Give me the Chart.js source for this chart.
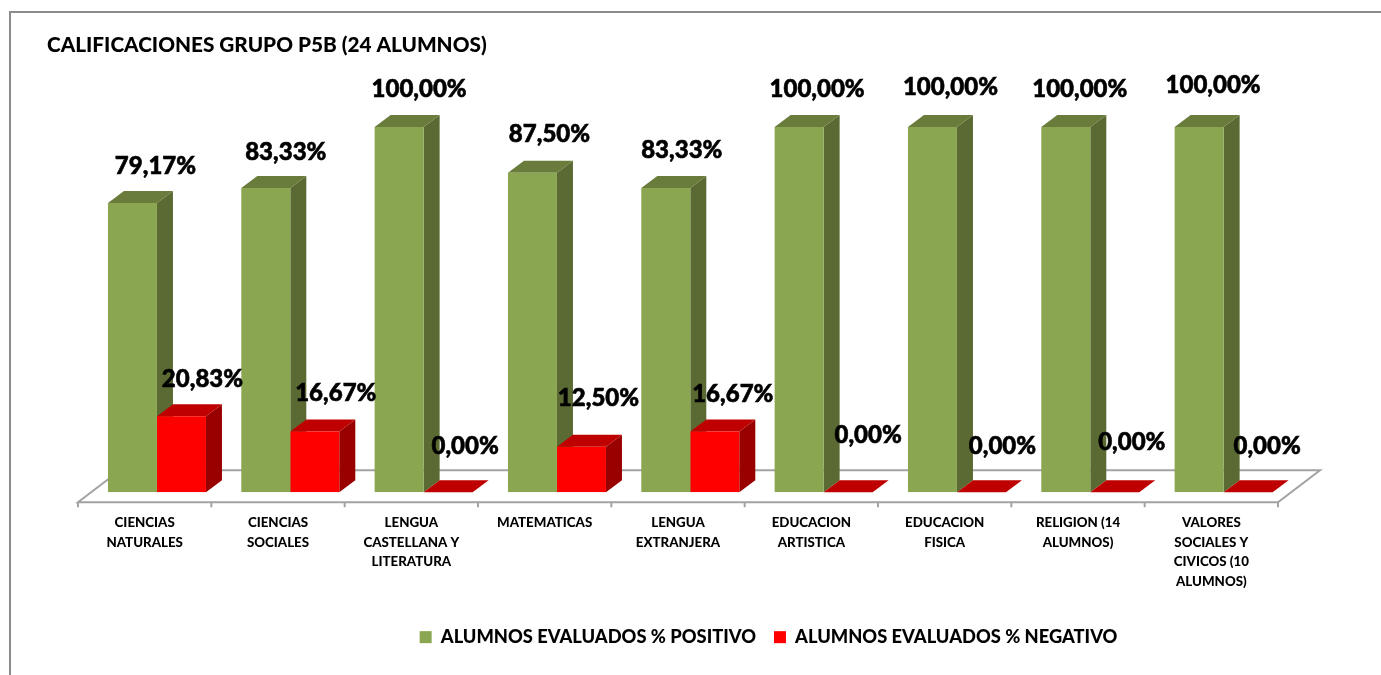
<!DOCTYPE html>
<html>
<head>
<meta charset="utf-8">
<title>Calificaciones grupo P5B</title>
<script src="https://cdn.jsdelivr.net/npm/chart.js@4"></script>
<style>
	html, body { margin: 0; padding: 0; background: #fff; overflow: hidden; }
	canvas { display: block; }
</style>
</head>
<body>
<canvas id="chart" width="1381" height="675"></canvas>
<script>
const categories = [
	['CIENCIAS', 'NATURALES'],
	['CIENCIAS', 'SOCIALES'],
	['LENGUA', 'CASTELLANA Y', 'LITERATURA'],
	'MATEMATICAS',
	['LENGUA', 'EXTRANJERA'],
	['EDUCACION', 'ARTISTICA'],
	['EDUCACION', 'FISICA'],
	['RELIGION (14', 'ALUMNOS)'],
	['VALORES', 'SOCIALES Y', 'CIVICOS (10', 'ALUMNOS)'],
];
const positivo = [79.17, 83.33, 100, 87.5, 83.33, 100, 100, 100, 100];
const negativo = [20.83, 16.67, 0, 12.5, 16.67, 0, 0, 0, 0];

// hand placed value labels in the original, [dx from bar centre, dy above bar top]
const positivoNudge = [[23, 37], [20, 36], [20, 38], [17, 38], [16, 38], [18, 38], [18, 40], [14, 38], [14, 42]];
const negativoNudge = [[21, 37], [21, 38], [17, 46], [17, 48], [18, 37], [20, 57], [21, 46], [17, 50], [19, 46]];

const FONT = 'Lato, Carlito, sans-serif';
const DEPTH_X = 16;
const DEPTH_Y = 12;
const LABEL_SHIFT = 12.3;

function poly(ctx, points, color) {
	ctx.fillStyle = color;
	ctx.beginPath();
	points.forEach((p, i) => (i ? ctx.lineTo(p[0], p[1]) : ctx.moveTo(p[0], p[1])));
	ctx.closePath();
	ctx.fill();
}

const frame3d = {
	id: 'frame3d',
	afterLayout(chart) {
		// the original keeps title and legend off centre
		chart.titleBlock.left = 47;
		chart.titleBlock.right = 1381;
		chart.legend.left = 78;
		chart.legend.right = 1381 + 78;
		chart.legend.top = 610;
	},
	beforeDraw(chart) {
		const { ctx, canvas } = chart;
		ctx.save();
		ctx.fillStyle = '#fff';
		ctx.fillRect(0, 0, canvas.width, canvas.height);
		ctx.strokeStyle = '#8c8c8c';
		ctx.lineWidth = 2;
		ctx.beginPath();
		ctx.moveTo(10, 675);
		ctx.lineTo(10, 12);
		ctx.lineTo(1381, 12);
		ctx.stroke();
		ctx.restore();
	},
	beforeDatasetsDraw(chart) {
		const { ctx } = chart;
		const x = chart.scales.x;
		const base = chart.scales.y.getPixelForValue(0);
		const step = x.getPixelForValue(1) - x.getPixelForValue(0);
		const left = x.getPixelForValue(0) - step / 2 - LABEL_SHIFT;
		const right = left + step * categories.length;
		const front = base + 10;
		const back = base - 22;

		ctx.save();
		ctx.strokeStyle = '#a3a3a3';
		ctx.lineWidth = 2;
		ctx.beginPath();
		ctx.moveTo(left, front);
		ctx.lineTo(left + 42, back);
		ctx.lineTo(right + 42, back);
		ctx.lineTo(right, front);
		ctx.closePath();
		for (let i = 0; i <= categories.length; i++) {
			ctx.moveTo(left + step * i, front);
			ctx.lineTo(left + step * i, front + 5);
		}
		ctx.stroke();

		const shades = [
			{ top: '#6a7c3b', side: '#5a6a32' },
			{ top: '#bf0000', side: '#990000' },
		];
		chart.data.datasets.forEach((ds, d) => {
			chart.getDatasetMeta(d).data.forEach((bar) => {
				const l = bar.x - bar.width / 2;
				const r = bar.x + bar.width / 2;
				poly(ctx, [[r, bar.y], [r + DEPTH_X, bar.y - DEPTH_Y], [r + DEPTH_X, base - DEPTH_Y], [r, base]], shades[d].side);
				poly(ctx, [[l, bar.y], [l + DEPTH_X, bar.y - DEPTH_Y], [r + DEPTH_X, bar.y - DEPTH_Y], [r, bar.y]], shades[d].top);
			});
		});
		ctx.restore();
	},
	afterDatasetsDraw(chart) {
		const { ctx } = chart;
		const nudges = [positivoNudge, negativoNudge];
		ctx.save();
		ctx.font = '900 24px ' + FONT;
		ctx.fillStyle = '#000';
		ctx.strokeStyle = '#000';
		ctx.lineWidth = 0.6;
		ctx.textAlign = 'center';
		ctx.textBaseline = 'middle';
		chart.data.datasets.forEach((ds, d) => {
			chart.getDatasetMeta(d).data.forEach((bar, i) => {
				const text = ds.data[i].toFixed(2).replace('.', ',') + '%';
				ctx.fillText(text, bar.x + nudges[d][i][0], bar.y - nudges[d][i][1]);
				ctx.strokeText(text, bar.x + nudges[d][i][0], bar.y - nudges[d][i][1]);
			});
		});
		ctx.restore();
	},
};

new Chart(document.getElementById('chart'), {
	type: 'bar',
	data: {
		labels: categories,
		datasets: [
			{ label: 'ALUMNOS EVALUADOS % POSITIVO', data: positivo, backgroundColor: '#8ba650', borderWidth: 0 },
			{ label: 'ALUMNOS EVALUADOS % NEGATIVO', data: negativo, backgroundColor: '#ff0000', borderWidth: 0 },
		],
	},
	options: {
		responsive: false,
		animation: false,
		layout: { padding: { left: 90.3, right: 90.7, top: 0, bottom: 0 } },
		datasets: { bar: { barPercentage: 1, categoryPercentage: 98 / 133.33 } },
		plugins: {
			tooltip: { enabled: false },
			title: {
				display: true,
				text: 'CALIFICACIONES GRUPO P5B (24 ALUMNOS)',
				align: 'start',
				color: '#000',
				font: { family: FONT, size: 20.75, weight: '900', lineHeight: 1.2 },
				padding: { top: 33, bottom: 69.1 },
			},
			legend: {
				position: 'bottom',
				align: 'center',
				labels: {
					boxWidth: 12,
					boxHeight: 12,
					padding: 18,
					color: '#000',
					font: { family: FONT, size: 18.3, weight: '900', lineHeight: 1.2 },
				},
			},
		},
		scales: {
			x: {
				afterFit(scale) {
					scale.height = 136.4;
				},
				border: { display: false },
				grid: { display: false },
				ticks: {
					autoSkip: false,
					maxRotation: 0,
					padding: 13,
					labelOffset: -LABEL_SHIFT,
					color: '#000',
					font: { family: FONT, size: 13.3, weight: '900', lineHeight: 1.46 },
				},
			},
			y: { display: false, min: 0, max: 100 },
		},
	},
	plugins: [frame3d],
});
</script>
</body>
</html>
